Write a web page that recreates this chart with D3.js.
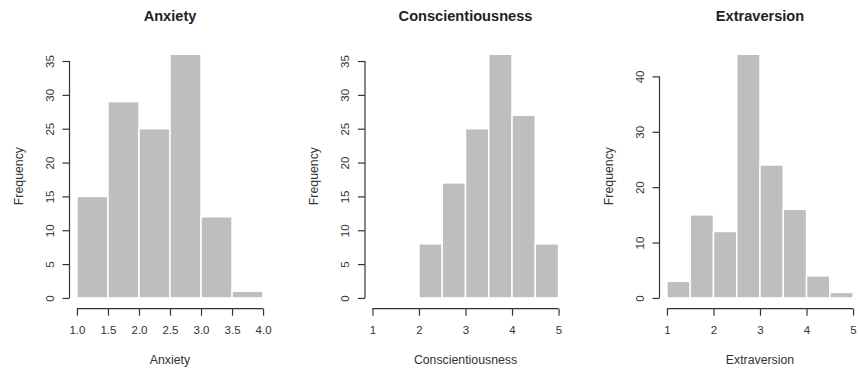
<!DOCTYPE html>
<html>
<head>
<meta charset="utf-8">
<script src="https://cdn.jsdelivr.net/npm/d3@7"></script>
<style>
  body { margin: 0; background: #fff; }
  svg text { font-family: "Liberation Sans", Arial, sans-serif; fill: #222; }
</style>
</head>
<body>
<div id="chart"></div>
<script>
// histogram data
const panelNames = ["Anxiety", "Conscientiousness", "Extraversion"];
const anxietyBreaks = [1.0, 1.5, 2.0, 2.5, 3.0, 3.5, 4.0];
const anxietyCounts = [15, 29, 25, 36, 12, 1];
const conscBreaks = [2.0, 2.5, 3.0, 3.5, 4.0, 4.5, 5.0];
const conscCounts = [8, 17, 25, 36, 27, 8];
const extraBreaks = [1.0, 1.5, 2.0, 2.5, 3.0, 3.5, 4.0, 4.5, 5.0];
const extraCounts = [3, 15, 12, 44, 24, 16, 4, 1];
const anxietyXTicks = ["1.0", "1.5", "2.0", "2.5", "3.0", "3.5", "4.0"];
const fiveTicks = ["1", "2", "3", "4", "5"];
const anxietyYTicks = [0, 5, 10, 15, 20, 25, 30, 35];
const extraYTicks = [0, 10, 20, 30, 40];

const panels = [
    { name: panelNames[0], breaks: anxietyBreaks, counts: anxietyCounts, xlim: [1, 4], xticks: anxietyXTicks, yticks: anxietyYTicks, left: 69.5 },
    { name: panelNames[1], breaks: conscBreaks, counts: conscCounts, xlim: [1, 5], xticks: fiveTicks, yticks: anxietyYTicks, left: 365 },
    { name: panelNames[2], breaks: extraBreaks, counts: extraCounts, xlim: [1, 5], xticks: fiveTicks, yticks: extraYTicks, left: 659.5 }
];

const W = 859, H = 372;
const plotW = 201, plotTop = 44.5, plotBottom = 307.7;

const svg = d3.select("#chart").append("svg")
    .attr("width", W)
    .attr("height", H);

panels.forEach((p) => {
    // R style: 4% padding on both axes
    let xr = p.xlim[1] - p.xlim[0];
    let x = d3.scaleLinear()
        .domain([p.xlim[0] - 0.04 * xr, p.xlim[1] + 0.04 * xr])
        .range([p.left, p.left + plotW]);
    let ymax = d3.max(p.counts);
    let y = d3.scaleLinear()
        .domain([-0.04 * ymax, 1.04 * ymax])
        .range([plotBottom, plotTop]);

    let g = svg.append("g").attr("class", "panel");

    // bars
    g.selectAll("rect.bar")
        .data(p.counts)
        .enter().append("rect")
        .attr("class", "bar")
        .attr("x", (d, i) => x(p.breaks[i]))
        .attr("width", (d, i) => x(p.breaks[i + 1]) - x(p.breaks[i]))
        .attr("y", d => y(d))
        .attr("height", d => y(0) - y(d))
        .style("fill", "#bebebe")
        .style("stroke", "#fff")
        .style("stroke-width", 1.5);

    // x axis
    let xvals = p.xticks.map(Number);
    let xAxis = d3.axisBottom(x)
        .tickValues(xvals)
        .tickFormat((d, i) => p.xticks[i])
        .tickSizeOuter(0)
        .tickSize(7)
        .tickPadding(10);
    let gx = g.append("g")
        .attr("transform", "translate(0," + (plotBottom + 1) + ")")
        .call(xAxis);
    gx.select(".domain").attr("d", "M" + x(xvals[0]) + ",0H" + x(xvals[xvals.length - 1]));

    // y axis
    let yAxis = d3.axisLeft(y)
        .tickValues(p.yticks)
        .tickSizeOuter(0)
        .tickSize(7);
    let gy = g.append("g")
        .attr("transform", "translate(" + p.left + ",0)")
        .call(yAxis);
    gy.select(".domain").attr("d", "M0," + y(p.yticks[0]) + "V" + y(p.yticks[p.yticks.length - 1]));
    gy.selectAll(".tick text")
        .attr("x", 0).attr("y", 0).attr("dy", null)
        .attr("text-anchor", "middle")
        .attr("dominant-baseline", "central")
        .attr("transform", "translate(-20,0) rotate(-90)");

    [gx, gy].forEach((a) => {
        a.select(".domain").attr("stroke", "#333").attr("stroke-width", 1.2);
        a.selectAll(".tick line").attr("stroke", "#333").attr("stroke-width", 1.2);
        a.selectAll(".tick text").style("font-size", "11.5px").style("fill", "#333");
    });

    let cx = p.left + plotW / 2;

    // title
    g.append("text")
        .attr("x", cx).attr("y", 21)
        .attr("text-anchor", "middle")
        .style("font-size", "14.6px")
        .style("font-weight", "bold")
        .text(p.name);

    // axis labels
    g.append("text")
        .attr("x", cx).attr("y", 364)
        .attr("text-anchor", "middle")
        .style("font-size", "12.3px")
        .style("fill", "#333")
        .text(p.name);

    g.append("text")
        .attr("transform", "translate(" + (p.left - 51) + "," + ((plotTop + plotBottom) / 2) + ") rotate(-90)")
        .attr("text-anchor", "middle")
        .attr("dominant-baseline", "central")
        .style("font-size", "12.3px")
        .style("fill", "#333")
        .text("Frequency");
});
</script>
</body>
</html>
